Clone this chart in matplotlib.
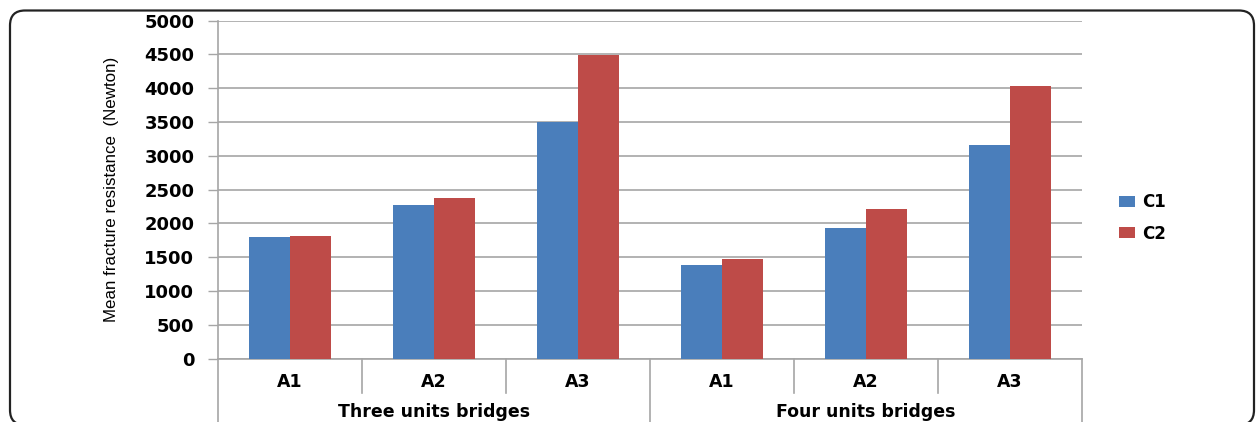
import numpy as np
import matplotlib.pyplot as plt
import matplotlib.transforms as mtransforms
from matplotlib.patches import FancyBboxPatch

# data
groups = ["Three units bridges", "Four units bridges"]
subcats = ["A1", "A2", "A3", "A1", "A2", "A3"]
c1 = [1805, 2270, 3500, 1385, 1932, 3158]
c2 = [1822, 2370, 4495, 1474, 2215, 4034]
yticks = [0, 500, 1000, 1500, 2000, 2500, 3000, 3500, 4000, 4500, 5000]

blue = "#4a7ebb"
red = "#be4b48"
grey = "#a6a6a6"

fig = plt.figure(figsize=(12.57, 4.22), dpi=100)
ax = fig.add_axes([218/1257, 1-358.7/422, 864/1257, 338/422])

x = np.arange(len(subcats))
w = 0.285
ax.bar(x - w/2, c1, w, color=blue, label="C1", zorder=3)
ax.bar(x + w/2, c2, w, color=red, label="C2", zorder=3)

ax.set_xlim(-0.5, len(subcats) - 0.5)
ax.set_ylim(0, 5000)
ax.set_yticks(yticks)
ax.set_yticklabels([str(v) for v in yticks], fontweight="bold", fontsize=13)
ax.tick_params(axis="y", length=7, width=1, color=grey, pad=10)
ax.set_xticks([])
ax.yaxis.grid(True, color=grey, lw=1.2, zorder=0)

for s in ["top", "right"]:
    ax.spines[s].set_visible(False)
ax.spines["left"].set_color(grey)
ax.spines["bottom"].set_color(grey)
ax.spines["left"].set_linewidth(1.2)
ax.spines["bottom"].set_linewidth(1.2)

ax.set_ylabel("Mean fracture resistance  (Newton)", fontsize=12.2,
              family=["Liberation Sans", "DejaVu Sans"], va="center")
ax.yaxis.set_label_coords(-0.123, 0.5)

# multi-level category axis
trans = mtransforms.blended_transform_factory(ax.transData, ax.transAxes)
for b in np.arange(-0.5, len(subcats), 1.0):
    if b in (-0.5, 2.5, 5.5):
        ax.plot([b, b], [0, -0.2], color=grey, lw=1.2, transform=trans, clip_on=False)
    else:
        ax.plot([b, b], [0, -0.1015], color=grey, lw=1.2, transform=trans, clip_on=False)
for i, lab in enumerate(subcats):
    ax.text(i, -0.0846, lab, transform=trans, ha="center", va="baseline",
            fontsize=12.5, fontweight="bold")
for g, lab in enumerate(groups):
    ax.text(1 + 3*g, -0.172, lab, transform=trans, ha="center", va="baseline",
            fontsize=12.5, fontweight="bold")

fig.legend(loc="center left", bbox_to_anchor=(1119/1257, 1-218/422),
           frameon=False, prop={"weight": "bold", "size": 12},
           handlelength=0.95, handleheight=0.6, handletextpad=0.45,
           labelspacing=0.8, borderpad=0, borderaxespad=0)

# rounded frame around the whole chart
frame = FancyBboxPatch((0.10, -0.03), 12.44, 4.145,
                       boxstyle="round,pad=0,rounding_size=0.15",
                       transform=fig.dpi_scale_trans, fill=False,
                       ec="#222222", lw=1.6, clip_on=False)
fig.patches.append(frame)

fig.savefig("out.png", dpi=100)
